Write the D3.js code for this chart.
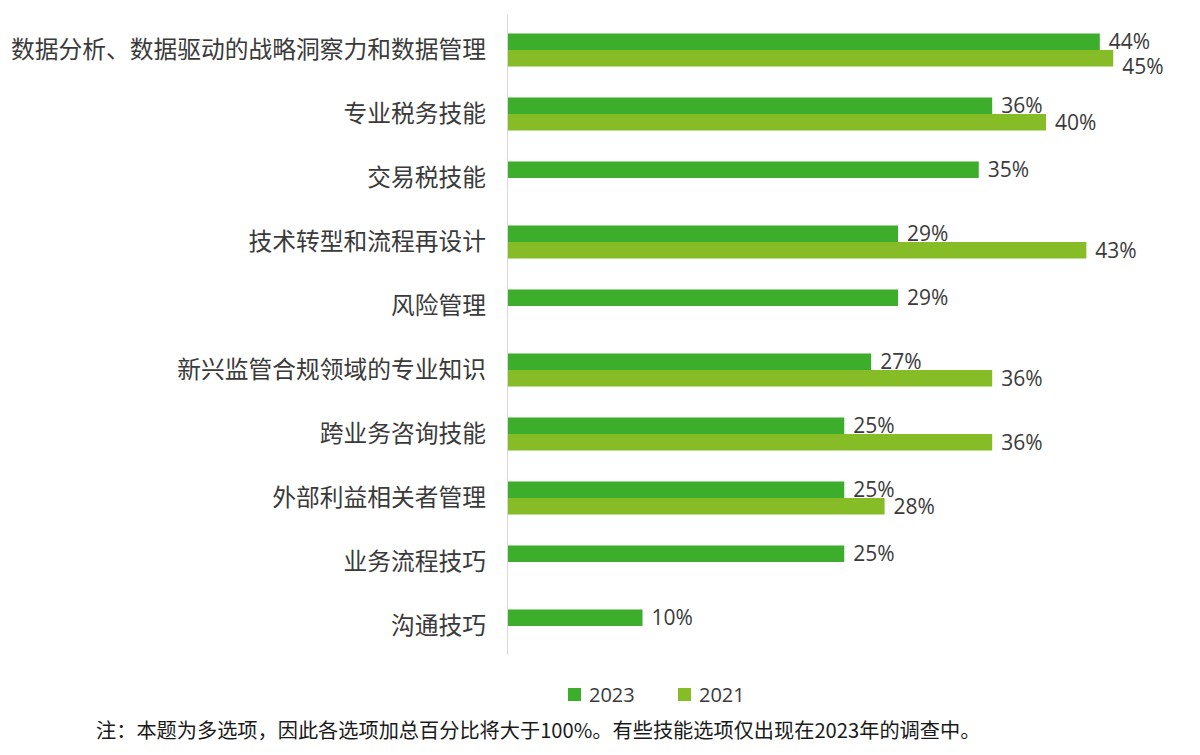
<!DOCTYPE html>
<html><head><meta charset="utf-8">
<script src="https://cdn.jsdelivr.net/npm/d3@7"></script>
<style>body{margin:0;background:#fff}svg{display:block}</style>
</head><body>
<script>
const categories = ["数据分析、数据驱动的战略洞察力和数据管理","专业税务技能","交易税技能","技术转型和流程再设计","风险管理","新兴监管合规领域的专业知识","跨业务咨询技能","外部利益相关者管理","业务流程技巧","沟通技巧"];
const values2023 = [44,36,35,29,29,27,25,25,25,10];
const values2021 = [45,40,null,43,null,36,36,28,null,null];
const seriesNames = ["2023","2021"];
const colors = ["#3dae2b","#86bc25"];
const note = "注：本题为多选项，因此各选项加总百分比将大于100%。有些技能选项仅出现在2023年的调查中。";

const W=1200,H=755;
const svg=d3.select("body").append("svg").attr("width",W).attr("height",H);
const x=d3.scaleLinear().domain([0,50]).range([508,508+672.5]);
const y=d3.scaleBand().domain(categories).range([18,658]).paddingInner(0.484).paddingOuter(0.242);
const sub=d3.scaleBand().domain(seriesNames).range([0,y.bandwidth()]);
const textCol="#3a3a3a";

// axis
svg.append("line").attr("x1",x(0)-0.5).attr("x2",x(0)-0.5).attr("y1",15).attr("y2",655).attr("stroke","#d9d9d9").attr("stroke-width",1);

const series=[values2023,values2021];
series.forEach((vals,si)=>{
  svg.append("g").selectAll("rect").data(categories.map((c,i)=>({c,v:vals[i]})).filter(d=>d.v!=null))
    .join("rect")
    .attr("x",x(0)).attr("y",d=>y(d.c)+sub(seriesNames[si]))
    .attr("width",d=>x(d.v)-x(0)).attr("height",sub.bandwidth())
    .attr("fill",colors[si]);
});
// labels
const lblFont="'Open Sans', 'Noto Sans', sans-serif";
const lblSize=21;
categories.forEach((c,i)=>{
  const v1=values2023[i], v2=values2021[i];
  const y1=y(c)+sub("2023")+sub.bandwidth()/2;
  svg.append("text").attr("x",x(v1)+9).attr("y",y1).attr("dy","0.35em")
    .attr("font-family",lblFont).attr("font-size",lblSize).attr("fill",textCol).text(v1+"%");
  if(v2!=null){
    let y2=y(c)+sub("2021")+sub.bandwidth()/2;
    if(Math.abs(x(v2)-x(v1))<40) y2+=8;
    svg.append("text").attr("x",x(v2)+9).attr("y",y2).attr("dy","0.35em")
      .attr("font-family",lblFont).attr("font-size",lblSize).attr("fill",textCol).text(v2+"%");
  }
});
// category labels
svg.append("g").selectAll("text").data(categories).join("text")
  .attr("x",486).attr("y",d=>y(d)+y.bandwidth()/2).attr("dy","0.35em")
  .attr("text-anchor","end").attr("font-family","'Noto Sans CJK SC', sans-serif")
  .attr("font-size",23.75).attr("fill",textCol).text(d=>d);

// legend
const lg=svg.append("g");
[[568,"2023"],[678,"2021"]].forEach(([lx,name],i)=>{
  lg.append("rect").attr("x",lx).attr("y",688).attr("width",13).attr("height",13).attr("fill",colors[i]);
  lg.append("text").attr("x",lx+21).attr("y",695).attr("dy","0.35em").attr("font-family",lblFont)
    .attr("font-size",20).attr("fill",textCol).text(name);
});
// note
svg.append("text").attr("x",96).attr("y",731).attr("dy","0.35em")
  .attr("font-family","'Noto Sans CJK SC', sans-serif").attr("font-size",20.2).attr("fill","#1a1a1a").text(note);
</script>
</body></html>
